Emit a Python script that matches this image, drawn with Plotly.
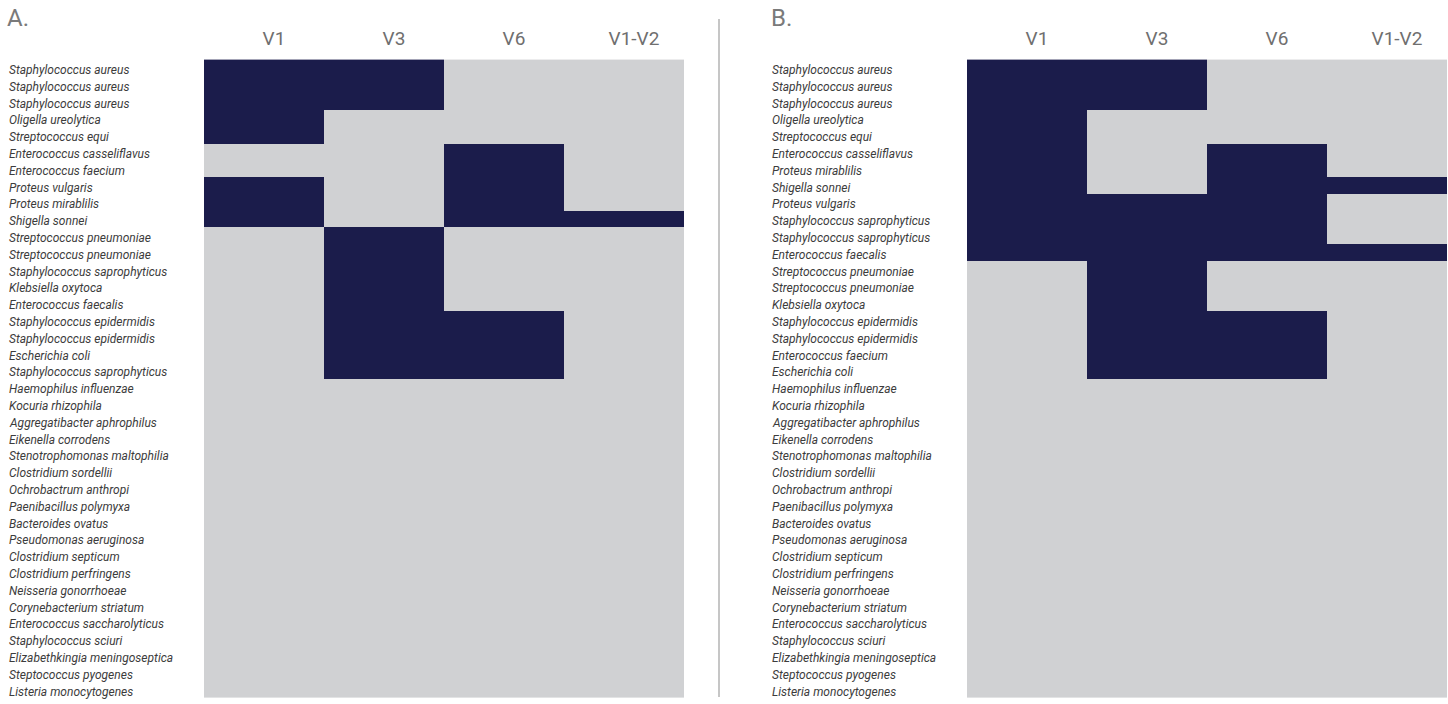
import plotly.graph_objects as go
import numpy as np

columns = ["V1", "V3", "V6", "V1-V2"]

species_a = [
    "Staphylococcus aureus", "Staphylococcus aureus", "Staphylococcus aureus",
    "Oligella ureolytica", "Streptococcus equi", "Enterococcus casseliflavus",
    "Enterococcus faecium", "Proteus vulgaris", "Proteus mirablilis",
    "Shigella sonnei", "Streptococcus pneumoniae", "Streptococcus pneumoniae",
    "Staphylococcus saprophyticus", "Klebsiella oxytoca", "Enterococcus faecalis",
    "Staphylococcus epidermidis", "Staphylococcus epidermidis", "Escherichia coli",
    "Staphylococcus saprophyticus", "Haemophilus influenzae", "Kocuria rhizophila",
    "Aggregatibacter aphrophilus", "Eikenella corrodens", "Stenotrophomonas maltophilia",
    "Clostridium sordellii", "Ochrobactrum anthropi", "Paenibacillus polymyxa",
    "Bacteroides ovatus", "Pseudomonas aeruginosa", "Clostridium septicum",
    "Clostridium perfringens", "Neisseria gonorrhoeae", "Corynebacterium striatum",
    "Enterococcus saccharolyticus", "Staphylococcus sciuri",
    "Elizabethkingia meningoseptica", "Steptococcus pyogenes", "Listeria monocytogenes",
]

species_b = [
    "Staphylococcus aureus", "Staphylococcus aureus", "Staphylococcus aureus",
    "Oligella ureolytica", "Streptococcus equi", "Enterococcus casseliflavus",
    "Proteus mirablilis", "Shigella sonnei", "Proteus vulgaris",
    "Staphylococcus saprophyticus", "Staphylococcus saprophyticus", "Enterococcus faecalis",
    "Streptococcus pneumoniae", "Streptococcus pneumoniae", "Klebsiella oxytoca",
    "Staphylococcus epidermidis", "Staphylococcus epidermidis", "Enterococcus faecium",
    "Escherichia coli", "Haemophilus influenzae", "Kocuria rhizophila",
    "Aggregatibacter aphrophilus", "Eikenella corrodens", "Stenotrophomonas maltophilia",
    "Clostridium sordellii", "Ochrobactrum anthropi", "Paenibacillus polymyxa",
    "Bacteroides ovatus", "Pseudomonas aeruginosa", "Clostridium septicum",
    "Clostridium perfringens", "Neisseria gonorrhoeae", "Corynebacterium striatum",
    "Enterococcus saccharolyticus", "Staphylococcus sciuri",
    "Elizabethkingia meningoseptica", "Steptococcus pyogenes", "Listeria monocytogenes",
]

# Panel A detection (1 = detected)
a_v1 = [1, 1, 1, 1, 1, 0, 0, 1, 1, 1,
        0, 0, 0, 0, 0, 0, 0, 0, 0, 0,
        0, 0, 0, 0, 0, 0, 0, 0, 0, 0,
        0, 0, 0, 0, 0, 0, 0, 0]
a_v3 = [1, 1, 1, 0, 0, 0, 0, 0, 0, 0,
        1, 1, 1, 1, 1, 1, 1, 1, 1, 0,
        0, 0, 0, 0, 0, 0, 0, 0, 0, 0,
        0, 0, 0, 0, 0, 0, 0, 0]
a_v6 = [0, 0, 0, 0, 0, 1, 1, 1, 1, 1,
        0, 0, 0, 0, 0, 1, 1, 1, 1, 0,
        0, 0, 0, 0, 0, 0, 0, 0, 0, 0,
        0, 0, 0, 0, 0, 0, 0, 0]
a_v1v2 = [0, 0, 0, 0, 0, 0, 0, 0, 0, 1,
          0, 0, 0, 0, 0, 0, 0, 0, 0, 0,
          0, 0, 0, 0, 0, 0, 0, 0, 0, 0,
          0, 0, 0, 0, 0, 0, 0, 0]

# Panel B detection
b_v1 = [1, 1, 1, 1, 1, 1, 1, 1, 1, 1,
        1, 1, 0, 0, 0, 0, 0, 0, 0, 0,
        0, 0, 0, 0, 0, 0, 0, 0, 0, 0,
        0, 0, 0, 0, 0, 0, 0, 0]
b_v3 = [1, 1, 1, 0, 0, 0, 0, 0, 1, 1,
        1, 1, 1, 1, 1, 1, 1, 1, 1, 0,
        0, 0, 0, 0, 0, 0, 0, 0, 0, 0,
        0, 0, 0, 0, 0, 0, 0, 0]
b_v6 = [0, 0, 0, 0, 0, 1, 1, 1, 1, 1,
        1, 1, 0, 0, 0, 1, 1, 1, 1, 0,
        0, 0, 0, 0, 0, 0, 0, 0, 0, 0,
        0, 0, 0, 0, 0, 0, 0, 0]
b_v1v2 = [0, 0, 0, 0, 0, 0, 0, 1, 0, 0,
          0, 1, 0, 0, 0, 0, 0, 0, 0, 0,
          0, 0, 0, 0, 0, 0, 0, 0, 0, 0,
          0, 0, 0, 0, 0, 0, 0, 0]

DARK = "#1b1c4b"
LIGHT = "#d0d1d3"
W, H = 1448, 704
top_px, bot_px = 57, 698

z_a = np.column_stack([a_v1, a_v3, a_v6, a_v1v2])
z_b = np.column_stack([b_v1, b_v3, b_v6, b_v1v2])
rows_a = list(range(len(species_a)))
rows_b = list(range(len(species_b)))

cs = [[0, LIGHT], [0.5, LIGHT], [0.5, DARK], [1, DARK]]

fig = go.Figure()
fig.add_trace(go.Heatmap(z=z_a, x=columns, y=rows_a, colorscale=cs, zmin=0, zmax=1,
                         showscale=False, xaxis="x", yaxis="y", hoverinfo="skip"))
fig.add_trace(go.Heatmap(z=z_b, x=columns, y=rows_b, colorscale=cs, zmin=0, zmax=1,
                         showscale=False, xaxis="x2", yaxis="y2", hoverinfo="skip"))

ydom = [1 - bot_px / H, 1 - top_px / H]
xaxis_common = dict(side="top", showgrid=False, zeroline=False, showline=False, ticks="",
                    tickfont=dict(family="Roboto", size=19, color="#6f6f6f"),
                    ticklabelshift=10, ticklabelstandoff=7, fixedrange=True)
yaxis_common = dict(showgrid=False, zeroline=False, showline=False, showticklabels=False,
                    ticks="", autorange="reversed", fixedrange=True)

fig.update_layout(
    width=W, height=H, autosize=False,
    margin=dict(l=0, r=0, t=0, b=0),
    paper_bgcolor="white", plot_bgcolor="white",
    xaxis=dict(domain=[204 / W, 684 / W], anchor="y", **xaxis_common),
    yaxis=dict(domain=ydom, anchor="x", **yaxis_common),
    xaxis2=dict(domain=[967 / W, 1447 / W], anchor="y2", **xaxis_common),
    yaxis2=dict(domain=ydom, anchor="x2", **yaxis_common),
    showlegend=False,
)

annotations = []
label_font = dict(family="Roboto", size=12, color="#3c3c3c")
for i, name in zip(rows_a, species_a):
    annotations.append(dict(x=7 / W, y=i, xref="paper", yref="y", text=f"<i>{name}</i>",
                            showarrow=False, xanchor="left", yanchor="middle",
                            font=label_font, yshift=-2))
for i, name in zip(rows_b, species_b):
    annotations.append(dict(x=770 / W, y=i, xref="paper", yref="y2", text=f"<i>{name}</i>",
                            showarrow=False, xanchor="left", yanchor="middle",
                            font=label_font, yshift=-2))

panel_font = dict(family="Roboto", size=24, color="#7a7a7a")
annotations.append(dict(x=5 / W, y=1 - 18.5 / H, xref="paper", yref="paper", text="A.",
                        showarrow=False, xanchor="left", yanchor="middle", font=panel_font))
annotations.append(dict(x=769 / W, y=1 - 18.5 / H, xref="paper", yref="paper", text="B.",
                        showarrow=False, xanchor="left", yanchor="middle", font=panel_font))
fig.update_layout(annotations=annotations)

fig.add_shape(type="line", xref="paper", yref="paper",
              x0=719 / W, x1=719 / W, y0=1 - 19 / H, y1=1 - 697 / H,
              line=dict(color="#c6c6c6", width=2))

fig.write_html("out.html", config={"displayModeBar": False},
               post_script="document.body.style.margin='0';document.body.style.overflow='hidden';")
